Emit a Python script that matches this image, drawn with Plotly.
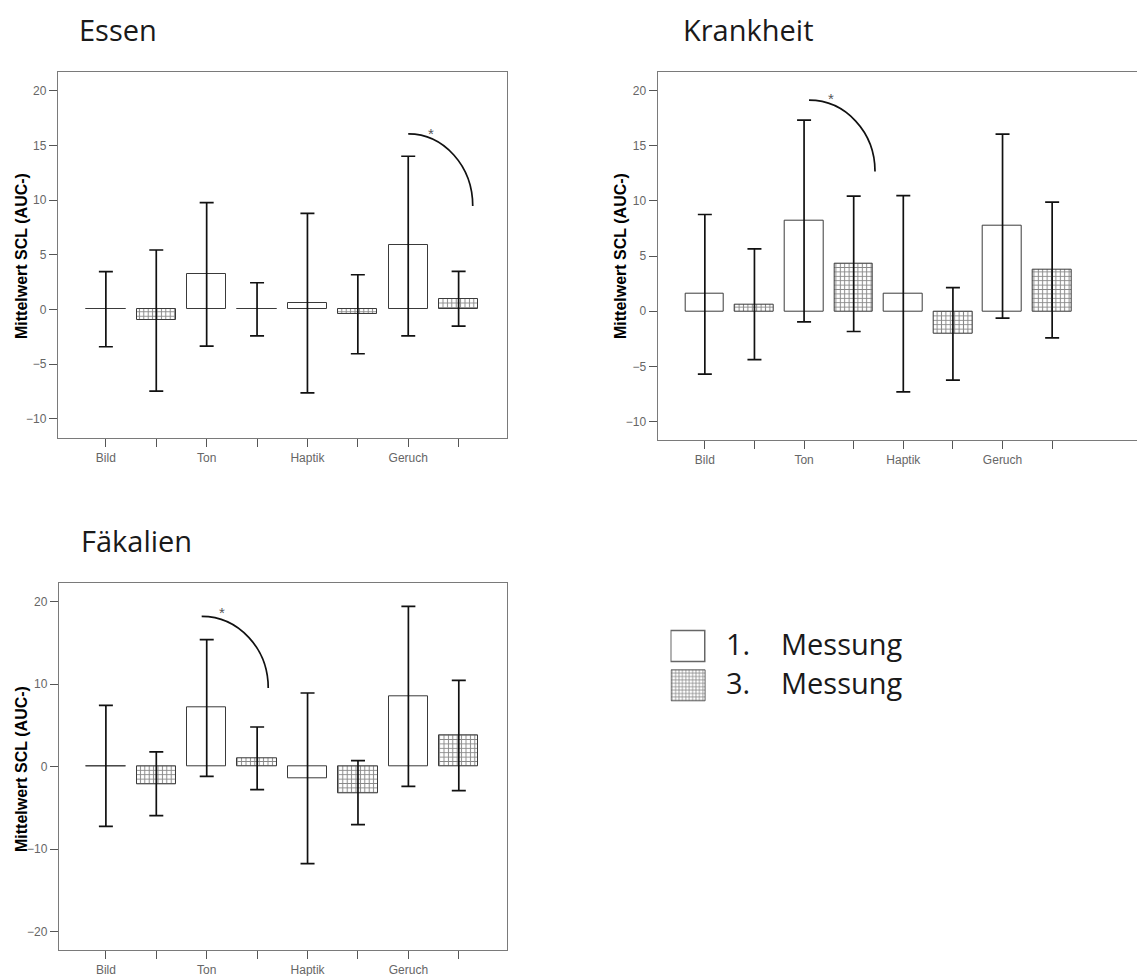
import plotly.graph_objects as go

# ---------------- data ----------------
categories = ["Bild", "Ton", "Haptik", "Geruch"]
series_names = ["1.   Messung", "3.   Messung"]

# Essen
essen_m1_mean  = [0.05, 3.20, 0.61, 5.88]
essen_m1_upper = [3.45, 9.76, 8.78, 14.00]
essen_m1_lower = [-3.41, -3.35, -7.62, -2.41]
essen_m3_mean  = [-0.95, 0.05, -0.46, 0.98]
essen_m3_upper = [5.43, 2.44, 3.17, 3.48]
essen_m3_lower = [-7.47, -2.41, -4.05, -1.52]

# Krankheit
krank_m1_mean  = [1.57, 8.19, 1.60, 7.73]
krank_m1_upper = [8.76, 17.31, 10.48, 16.04]
krank_m1_lower = [-5.71, -0.97, -7.31, -0.63]
krank_m3_mean  = [0.63, 4.32, -2.05, 3.72]
krank_m3_upper = [5.65, 10.42, 2.14, 9.88]
krank_m3_lower = [-4.38, -1.84, -6.25, -2.42]

# Fäkalien
faek_m1_mean  = [0.05, 7.14, -1.45, 8.56]
faek_m1_upper = [7.43, 15.38, 8.92, 19.41]
faek_m1_lower = [-7.22, -1.17, -11.74, -2.38]
faek_m3_mean  = [-2.10, 1.01, -3.23, 3.79]
faek_m3_upper = [1.78, 4.80, 0.73, 10.45]
faek_m3_lower = [-5.93, -2.78, -7.02, -2.91]

panel_titles = ["Essen", "Krankheit", "Fäkalien"]
y_title = "Mittelwert SCL (AUC-)"

# ---------------- layout geometry (not data) ----------------
W, H = 1137, 976
panels = [
    dict(xd=(58, 507), yd=(72, 438), xr=[-0.95, 7.96], yr=[-11.75, 21.7], dtick=5,
         m1=(essen_m1_mean, essen_m1_upper, essen_m1_lower),
         m3=(essen_m3_mean, essen_m3_upper, essen_m3_lower),
         arc=(6.0, 16.04, 7.28, 9.45), star=(6.45, 16.46),
         title_xy=(77, 30), ytitle_xy=(21, 256)),
    dict(xd=(657.7, 1137), yd=(71.7, 440), xr=[-0.95, 8.71], yr=[-11.67, 21.7], dtick=5,
         m1=(krank_m1_mean, krank_m1_upper, krank_m1_lower),
         m3=(krank_m3_mean, krank_m3_upper, krank_m3_lower),
         arc=(2.1, 19.12, 3.43, 12.66), star=(2.54, 19.6),
         title_xy=(681, 30), ytitle_xy=(620, 256)),
    dict(xd=(59, 506.7), yd=(583.3, 950), xr=[-0.93, 7.95], yr=[-22.2, 22.2], dtick=10,
         m1=(faek_m1_mean, faek_m1_upper, faek_m1_lower),
         m3=(faek_m3_mean, faek_m3_upper, faek_m3_lower),
         arc=(1.9, 18.2, 3.22, 9.52), star=(2.31, 19.2),
         title_xy=(79, 540), ytitle_xy=(21, 769)),
]

def px_x(v):
    return v / W

def px_y(v):
    return 1 - v / H

OUTLINE = "#3a3a3a"
FRAME = "#7a7a7a"
TICKC = "#555555"
ERRC = "#111111"
BAR_W = 0.78
hatch = dict(shape="+", size=4.4, solidity=0.4, fgcolor="#111111", bgcolor="white")

fig = go.Figure()
annotations = []
shapes = []

for i, p in enumerate(panels):
    sfx = "" if i == 0 else str(i + 1)
    xa, ya = "x" + sfx, "y" + sfx
    pos1 = [2 * k for k in range(len(categories))]
    pos3 = [2 * k + 1 for k in range(len(categories))]
    for pos, (mean, up, lo), pattern, nm in [
        (pos1, p["m1"], None, series_names[0]),
        (pos3, p["m3"], hatch, series_names[1]),
    ]:
        marker = dict(color="white", line=dict(color=OUTLINE, width=1))
        if pattern:
            marker["pattern"] = pattern
        fig.add_trace(go.Bar(
            x=pos, y=mean, width=BAR_W, name=nm, showlegend=False,
            marker=marker, xaxis=xa, yaxis=ya,
            error_y=dict(type="data", symmetric=False,
                         array=[u - m for u, m in zip(up, mean)],
                         arrayminus=[m - l for m, l in zip(mean, lo)],
                         color=ERRC, thickness=1.7, width=7),
        ))
    ticktext = []
    for c in categories:
        ticktext += [c, ""]
    fig.layout["xaxis" + sfx] = dict(
        domain=[px_x(p["xd"][0]), px_x(p["xd"][1])], range=p["xr"], anchor=ya,
        tickmode="array", tickvals=list(range(8)), ticktext=ticktext,
        ticks="outside", ticklen=8, tickwidth=1.3, tickcolor=TICKC,
        showline=True, linecolor=FRAME, linewidth=1.3, mirror=True,
        showgrid=False, zeroline=False,
        tickfont=dict(family="Arial, Liberation Sans", size=12, color="#666666"),
    )
    fig.layout["yaxis" + sfx] = dict(
        domain=[px_y(p["yd"][1]), px_y(p["yd"][0])], range=p["yr"], anchor=xa,
        dtick=p["dtick"], tick0=0,
        ticks="outside", ticklen=8, tickwidth=1.3, tickcolor=TICKC,
        showline=True, linecolor=FRAME, linewidth=1.3, mirror=True,
        showgrid=False, zeroline=False,
        tickfont=dict(family="Arial, Liberation Sans", size=12, color="#666666"),
    )
    # significance arc (cubic Bezier approximating a quarter ellipse)
    x0, y0, x1, y1 = p["arc"]
    k = 0.5523
    path = (f"M {x0},{y0} C {x0 + k * (x1 - x0)},{y0} "
            f"{x1},{y1 + k * (y0 - y1)} {x1},{y1}")
    shapes.append(dict(type="path", path=path, xref=xa, yref=ya,
                       line=dict(color="#111111", width=1.7)))
    annotations.append(dict(x=p["star"][0], y=p["star"][1], xref=xa, yref=ya,
                            text="*", showarrow=False, yshift=-4,
                            font=dict(family="Arial", size=15, color="#555555")))
    # panel title
    annotations.append(dict(x=px_x(p["title_xy"][0]), y=px_y(p["title_xy"][1]),
                            xref="paper", yref="paper", xanchor="left", yanchor="middle",
                            text=panel_titles[i], showarrow=False,
                            font=dict(family="Open Sans", size=29, color="#1a1a1a")))
    # y-axis title
    annotations.append(dict(x=px_x(p["ytitle_xy"][0]), y=px_y(p["ytitle_xy"][1]),
                            xref="paper", yref="paper", xanchor="center", yanchor="middle",
                            text=y_title, textangle=-90, showarrow=False,
                            font=dict(family="Arial, Liberation Sans", size=16, color="black",
                                      weight="bold")))

# ---------------- legend (swatches in a hidden subplot) ----------------
fig.add_trace(go.Bar(
    y=[1.5], x=[1], base=0, orientation="h", width=0.77, showlegend=False,
    marker=dict(color="white", line=dict(color="#666666", width=1.5)),
    xaxis="x4", yaxis="y4", hoverinfo="skip"))
fig.add_trace(go.Bar(
    y=[0.5], x=[1], base=0, orientation="h", width=0.77, showlegend=False,
    marker=dict(color="white", line=dict(color="#444444", width=0.8),
                pattern=dict(shape="+", size=3.4, solidity=0.4, fgcolor="#111111", bgcolor="white")),
    xaxis="x4", yaxis="y4", hoverinfo="skip"))
fig.layout["xaxis4"] = dict(domain=[px_x(670.5), px_x(707)], range=[-0.04, 1.04], visible=False,
                            anchor="y4", fixedrange=True)
fig.layout["yaxis4"] = dict(domain=[px_y(705.2), px_y(627.2)], range=[0, 2], visible=False,
                            anchor="x4", fixedrange=True)
legend_rows = [(643, series_names[0]), (682, series_names[1])]
for ypx, label in legend_rows:
    num, word = label.split(maxsplit=1)
    annotations.append(dict(x=px_x(724), y=px_y(ypx), xref="paper", yref="paper",
                            xanchor="left", yanchor="middle", text=num, showarrow=False,
                            font=dict(family="Open Sans", size=29, color="#1a1a1a")))
    annotations.append(dict(x=px_x(779), y=px_y(ypx), xref="paper", yref="paper",
                            xanchor="left", yanchor="middle", text=word, showarrow=False,
                            font=dict(family="Open Sans", size=29, color="#1a1a1a")))

fig.update_layout(
    width=W, height=H, margin=dict(l=0, r=0, t=0, b=0),
    paper_bgcolor="white", plot_bgcolor="white",
    barmode="overlay", bargap=0,
    annotations=annotations, shapes=shapes,
    showlegend=False,
)

fig.write_html("out.html")
